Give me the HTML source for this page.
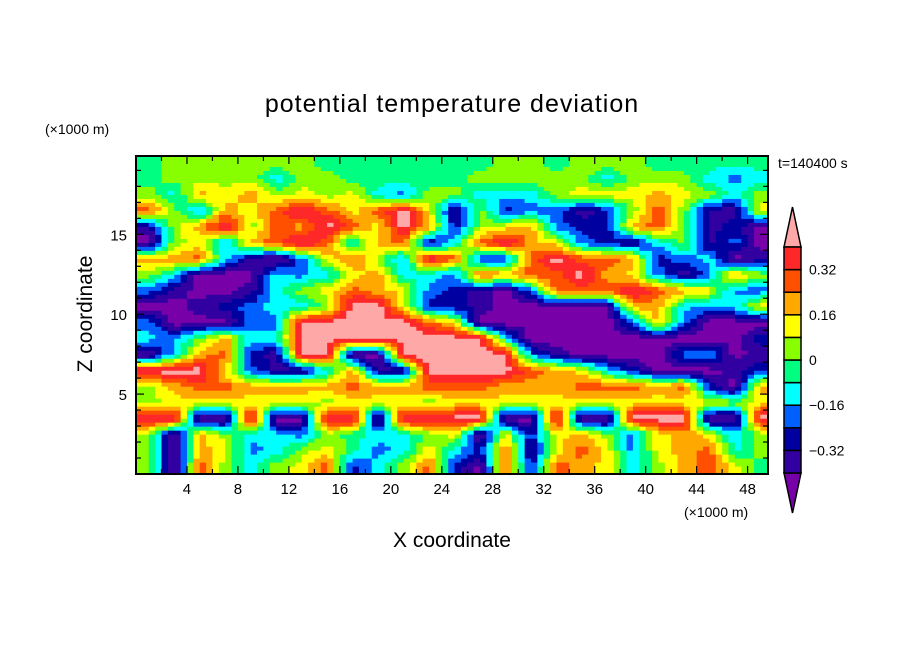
<!DOCTYPE html>
<html><head><meta charset="utf-8"><style>
body{margin:0;background:#fff;}
svg{display:block;font-family:"Liberation Sans",sans-serif;}
</style></head><body>
<svg id="chart" width="904" height="654" viewBox="0 0 904 654">
<rect width="904" height="654" fill="#fff"/>
<text x="452" y="112" font-size="25" text-anchor="middle" fill="#000" letter-spacing="1">potential temperature deviation</text>
<text x="45" y="134" font-size="14" fill="#000">(×1000 m)</text>
<text x="778" y="168" font-size="14" fill="#000">t=140400 s</text>
<text x="684" y="517" font-size="14" fill="#000">(×1000 m)</text>
<text x="452" y="547" font-size="21" text-anchor="middle" fill="#000">X coordinate</text>
<text transform="translate(92,314) rotate(-90)" font-size="21" text-anchor="middle" fill="#000">Z coordinate</text>
<g id="field"></g>
<g id="axes"></g>
<g id="cbar"></g>
</svg>
<script>
// data: potential temperature deviation (hundredths of K), rows from top (z=19..20 km) to bottom (z=0..1 km), columns every 2 km
const xTicks=[4,8,12,16,20,24,28,32,36,40,44,48];
const yTicks=[5,10,15];
const levelBounds=[-40,-32,-24,-16,-8,0,8,16,24,32,40];
const levelColors=["#7800a8","#3200a0","#0000a0","#0060ff","#00ffff","#00ff80","#88ff00","#ffff00","#ffa800","#ff5000","#ff2828","#ffa8a8"];
const cbarLabels=["0.32","0.16","0","\u22120.16","\u22120.32"];
const cbarLabelVals=[32,16,0,-16,-32];
const r19=[-4,4,4,4,4,4,4,-4,-4,-4,-4,-4,-4,-4,4,4,-4,4,4,4,-4,-4,-4,-4,-4];
const r18=[-4,4,4,4,4,-12,4,4,-4,-4,-4,-4,-4,4,4,4,4,4,-12,4,4,4,-12,-20,-12];
const r17=[4,-12,20,12,20,4,12,4,12,-12,-20,4,4,-12,-12,-12,4,12,12,12,20,12,4,-12,4];
const r16=[28,4,-20,20,12,28,44,28,12,28,44,12,-36,4,-28,-20,-20,-36,-28,4,28,4,-36,-36,12];
const r15=[-36,4,20,44,4,28,20,44,28,12,44,20,-28,4,12,20,-20,-28,-28,20,28,4,-36,-28,-44];
const r14=[-44,4,12,-20,20,28,44,28,-12,20,28,-36,-12,28,44,20,12,-20,-28,-36,-12,4,-36,-20,-44];
const r13=[20,20,28,-12,-36,-44,-20,12,28,4,-20,44,28,-28,-28,28,44,28,28,20,-28,-20,-12,-44,-36];
const r12=[4,-12,-44,-44,-44,-12,-20,-12,12,20,-12,-12,-20,28,20,28,28,44,20,12,-20,-36,-20,20,4];
const r11=[-20,-36,-44,-44,-36,-12,4,12,28,20,12,-20,-28,-36,-44,-20,28,28,28,44,28,20,12,-20,-20];
const r10=[-44,-44,-36,-28,-20,-12,-12,4,44,44,12,-28,-28,-36,-44,-44,-44,-44,-44,20,20,-12,-20,-12,12];
const r9=[-20,-44,-44,-44,-20,-20,44,44,44,44,44,28,12,-44,-44,-44,-44,-44,-44,-20,20,-20,-44,-44,-44];
const r8=[-12,-20,4,20,-12,-12,44,44,44,44,44,44,44,44,-12,-44,-44,-44,-44,-44,-44,-44,-44,-44,-28];
const r7=[-44,-12,20,28,-28,-36,44,44,-44,-44,44,44,44,44,44,-20,-36,-44,-44,-44,-44,-20,-12,-44,-36];
const r6=[44,44,44,12,-20,-36,-36,-12,20,-36,-36,44,44,44,44,28,20,12,-12,-28,-44,-44,-44,-36,-28];
const r5=[4,20,28,28,20,20,20,20,28,20,20,28,28,28,20,20,20,28,28,28,20,28,-28,-44,20];
const r4=[4,12,12,12,12,12,12,4,12,12,12,4,12,12,12,12,12,12,12,12,12,12,12,4,12];
const r3=[44,44,-44,-44,44,-44,-44,44,44,-44,44,44,44,44,-44,-44,44,-44,-44,44,44,44,-44,-44,44];
const r2=[4,-44,20,4,-12,-12,-20,4,-4,-12,-12,4,12,-44,12,-28,12,20,4,-20,12,20,12,-12,4];
const r1=[4,-44,20,12,-20,-12,4,12,-4,-20,-12,12,-12,-28,28,-36,12,28,12,-20,12,20,28,-12,4];
const r0=[4,-44,28,4,-12,4,12,28,-28,-12,4,28,-28,-44,28,-28,28,20,12,-12,4,20,28,12,-4];
const grid=[r19,r18,r17,r16,r15,r14,r13,r12,r11,r10,r9,r8,r7,r6,r5,r4,r3,r2,r1,r0];

const NS="http://www.w3.org/2000/svg";
const X0=136,X1=768,Y0=156,Y1=474,XMAX=49.6,ZMAX=19.9;
const xs=v=>X0+v/XMAX*(X1-X0);
const ys=v=>Y1-v/ZMAX*(Y1-Y0);
const nCols=grid[0].length,nRows=grid.length,dx=2,dz=1;
function val(r,c){r=Math.max(0,Math.min(nRows-1,r));c=Math.max(0,Math.min(nCols-1,c));return grid[r][c];}
function sample(x,z){
  const fc=x/dx-0.5, fr=(nRows-1)-(z/dz-0.5);
  const c0=Math.floor(fc),r0_=Math.floor(fr),tx=fc-c0,ty=fr-r0_;
  const a=val(r0_,c0),b=val(r0_,c0+1),c=val(r0_+1,c0),d=val(r0_+1,c0+1);
  return (a*(1-tx)+b*tx)*(1-ty)+(c*(1-tx)+d*tx)*ty;
}
function colorOf(v){let i=0;while(i<levelBounds.length&&v>=levelBounds[i])i++;return levelColors[i];}
const field=document.getElementById('field');
const SUB=4;
const stepX=dx/SUB, stepZ=dz/SUB;
for(let z=0;z<ZMAX;z+=stepZ){
  for(let x=0;x<XMAX;x+=stepX){
    const z2=Math.min(z+stepZ,ZMAX),x2=Math.min(x+stepX,XMAX);
    const v=sample(x+stepX/2,z+stepZ/2);
    const r=document.createElementNS(NS,'rect');
    r.setAttribute('x',xs(x).toFixed(2));
    r.setAttribute('y',ys(z2).toFixed(2));
    r.setAttribute('width',(xs(x2)-xs(x)+0.6).toFixed(2));
    r.setAttribute('height',(ys(z)-ys(z2)+0.6).toFixed(2));
    r.setAttribute('fill',colorOf(v));
    
    
    field.appendChild(r);
  }
}
const axes=document.getElementById('axes');
function line(x1,y1,x2,y2,w,name){
  const l=document.createElementNS(NS,'line');
  l.setAttribute('x1',x1);l.setAttribute('y1',y1);l.setAttribute('x2',x2);l.setAttribute('y2',y2);
  l.setAttribute('stroke','#000');l.setAttribute('stroke-width',w);
  
  
  axes.appendChild(l);
}
function text(x,y,s,anchor,size,name,parent){
  const t=document.createElementNS(NS,'text');
  t.setAttribute('x',x);t.setAttribute('y',y);t.setAttribute('text-anchor',anchor);
  t.setAttribute('font-size',size);t.textContent=s;
  
  
  parent.appendChild(t);
}
for(let v=2;v<XMAX;v+=2){
  const x=xs(v),len=(v%4===0)?8:5;
  line(x,Y1,x,Y1-len,1.2,'x-tick');
  line(x,Y0,x,Y0+len,1.2,'x-tick-top');
}
for(let v=1;v<ZMAX;v+=1){
  const y=ys(v),len=(v%5===0)?8:5;
  line(X0,y,X0+len,y,1.2,'y-tick');
  line(X1,y,X1-len,y,1.2,'y-tick-right');
}
xTicks.forEach(v=>text(xs(v),494,String(v),'middle',15,'x-tick-label',axes));
yTicks.forEach(v=>text(127,ys(v)+6,String(v),'end',15,'y-tick-label',axes));
const frame=document.createElementNS(NS,'rect');
frame.setAttribute('x',X0);frame.setAttribute('y',Y0);frame.setAttribute('width',X1-X0);frame.setAttribute('height',Y1-Y0);
frame.setAttribute('fill','none');frame.setAttribute('stroke','#000');frame.setAttribute('stroke-width',2);


axes.appendChild(frame);

// colorbar
const cb=document.getElementById('cbar');
const CX0=784,CX1=801,CTOP=247,CBOT=473,ctri=40;
const boxH=(CBOT-CTOP)/(levelBounds.length-1);
const cbY=v=>CBOT-(v-levelBounds[0])/(levelBounds[levelBounds.length-1]-levelBounds[0])*(CBOT-CTOP);
function poly(pts,fill,name){
  const p=document.createElementNS(NS,'polygon');
  p.setAttribute('points',pts);p.setAttribute('fill',fill);p.setAttribute('stroke','#000');p.setAttribute('stroke-width',1.5);
  
  
  cb.appendChild(p);
}
const cm=(CX0+CX1)/2;
poly(`${CX0},${CTOP} ${CX1},${CTOP} ${cm},${CTOP-ctri}`,levelColors[levelColors.length-1],'colorbar-top-arrow');
poly(`${CX0},${CBOT} ${CX1},${CBOT} ${cm},${CBOT+ctri}`,levelColors[0],'colorbar-bottom-arrow');
for(let i=0;i<levelBounds.length-1;i++){
  const yTop=cbY(levelBounds[i+1]);
  const r=document.createElementNS(NS,'rect');
  r.setAttribute('x',CX0);r.setAttribute('y',yTop);r.setAttribute('width',CX1-CX0);r.setAttribute('height',boxH);
  r.setAttribute('fill',levelColors[i+1]);r.setAttribute('stroke','#000');r.setAttribute('stroke-width',1.5);
  
  
  cb.appendChild(r);
}
cbarLabels.forEach((s,i)=>text(809,cbY(cbarLabelVals[i])+5,s,'start',14,'colorbar-label',cb));
</script>
</body></html>
